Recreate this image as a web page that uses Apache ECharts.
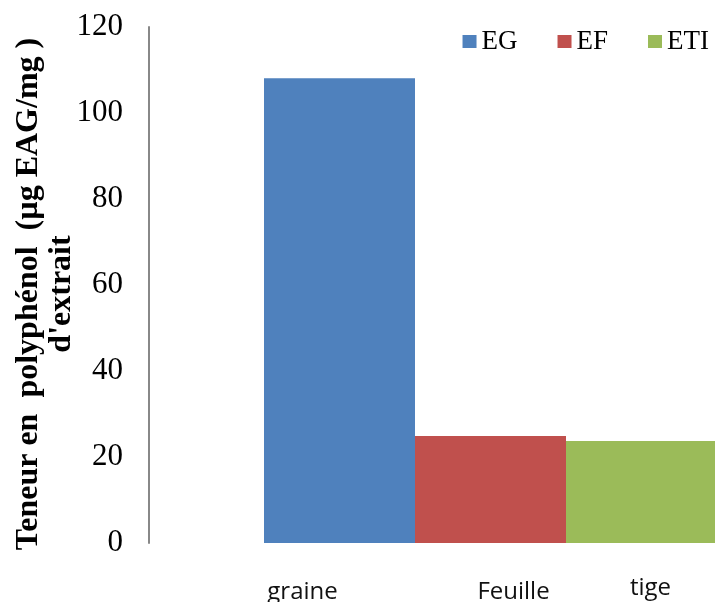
<!DOCTYPE html>
<html>
<head>
<meta charset="utf-8">
<script src="https://cdn.jsdelivr.net/npm/echarts@6/dist/echarts.min.js"></script>
<style>
  html, body { margin: 0; padding: 0; background: #fff; overflow: hidden; }
  /* the plot area runs past the right edge of the 715px page */
  #chart { width: 832px; height: 602px; }
</style>
</head>
<body>
<div id="chart"></div>
<script>
// Polyphenol content per extract (µg EAG/mg of extract)
const extracts = ['EG', 'EF', 'ETI'];
const parts = ['graine', 'Feuille', 'tige'];
const values = [108.1, 24.9, 23.7];
const yTicks = [0, 20, 40, 60, 80, 100, 120];

const colors = ['#4F81BD', '#C0504D', '#9BBB59'];
// placement of the plant-part caption under each bar
const captionOffset = [[-37, 4], [23, 4], [9, 0]];

const chart = echarts.init(document.getElementById('chart'), null, { renderer: 'canvas' });

const series = extracts.map((name, i) => ({
  name: name,
  type: 'bar',
  data: [values[i]],
  barWidth: 151,
  barGap: '0%',
  itemStyle: { color: colors[i] },
  label: {
    show: true,
    position: 'bottom',
    distance: 33,
    offset: captionOffset[i],
    formatter: () => parts[i],
    fontFamily: 'Open Sans',
    fontSize: 24,
    color: '#111'
  },
  emphasis: { disabled: true }
}));

chart.setOption({
  animation: false,
  backgroundColor: '#fff',
  color: colors,
  legend: {
    data: extracts,
    right: 118,
    top: 23,
    icon: 'rect',
    itemWidth: 14,
    itemHeight: 13,
    itemGap: 40,
    textStyle: { fontFamily: 'Liberation Serif', fontSize: 27, color: '#000' }
  },
  grid: { left: 149, top: 27, right: 0, bottom: 59, containLabel: false },
  xAxis: {
    type: 'category',
    data: [''],
    axisLine: { show: false },
    axisTick: { show: false },
    axisLabel: { show: false },
    splitLine: { show: false }
  },
  yAxis: {
    type: 'value',
    min: yTicks[0],
    max: yTicks[yTicks.length - 1],
    interval: 20,
    axisLine: { show: true, lineStyle: { color: '#888', width: 2 } },
    axisTick: { show: false },
    splitLine: { show: false },
    axisLabel: {
      margin: 26,
      fontFamily: 'Liberation Serif',
      fontSize: 31,
      color: '#000'
    }
  },
  graphic: [{
    type: 'text',
    x: 45,
    y: 294,
    rotation: Math.PI / 2,
    style: {
      text: 'Teneur en  polyphénol  (µg EAG/mg )\nd\'extrait',
      fontFamily: 'Liberation Serif',
      fontWeight: 'bold',
      fontSize: 32,
      lineHeight: 33,
      fill: '#000',
      align: 'center',
      verticalAlign: 'middle'
    }
  }],
  series: series
});
</script>
</body>
</html>
